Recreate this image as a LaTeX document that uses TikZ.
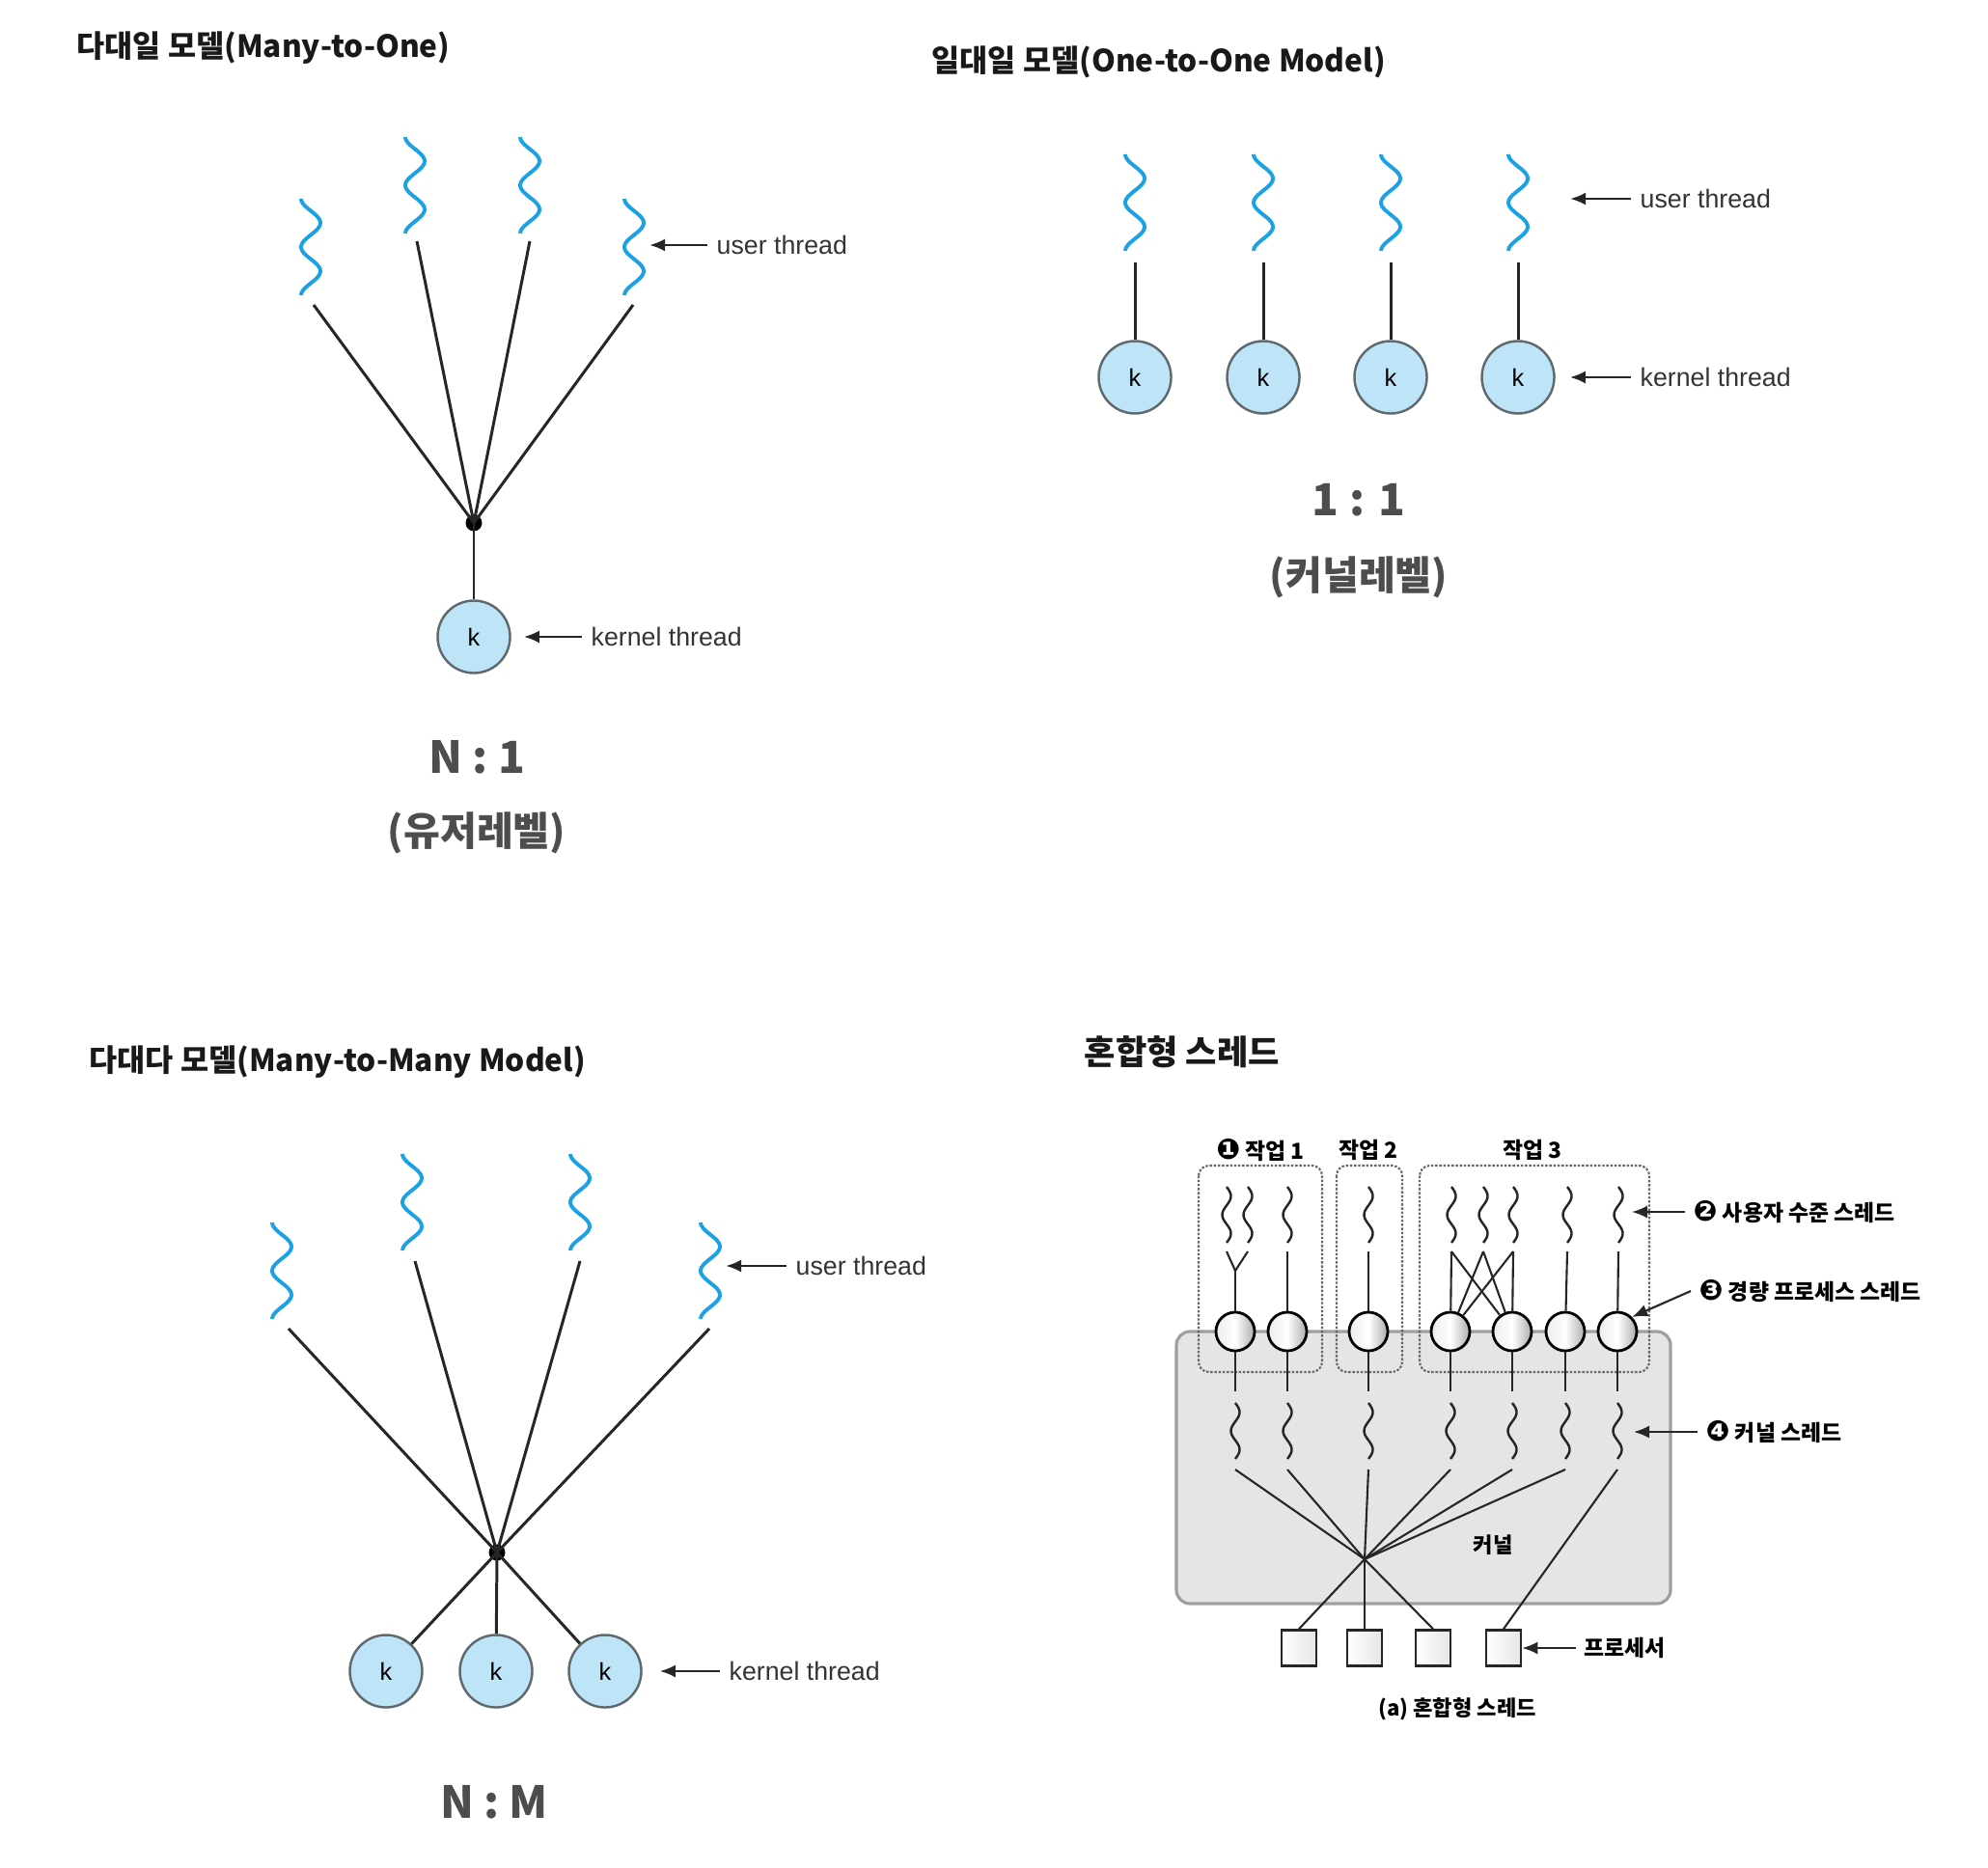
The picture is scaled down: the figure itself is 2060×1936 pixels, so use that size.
\documentclass[tikz,border=0pt]{standalone}
\usepackage{fontspec}
\setmainfont{Liberation Sans}
\newfontfamily\kr{Noto Sans CJK KR}
\newfontfamily\dingfont{DejaVu Sans}
\usetikzlibrary{arrows.meta,positioning}

\definecolor{threadblue}{RGB}{28,162,228}
\definecolor{kfill}{RGB}{190,228,248}
\definecolor{kline}{RGB}{95,105,110}
\definecolor{ratiogray}{RGB}{77,77,77}
\definecolor{kernelgray}{RGB}{229,229,229}

\tikzset{
  uthread/.style={threadblue, line width=1.1pt},
  sthread/.style={black!85, line width=0.7pt},
  link/.style={black!85, line width=0.85pt},
  hlink/.style={black!85, line width=0.6pt},
  kthread/.style={circle, draw=kline, fill=kfill, line width=0.7pt, minimum size=0.75cm,
    inner sep=0pt, font=\fontsize{7.2}{8}\selectfont},
  hubdot/.style={circle, fill=black, inner sep=0pt, minimum size=0.17cm},
  lwp/.style={circle, draw=black, line width=0.8pt, minimum size=0.4cm, inner sep=0pt,
    left color=gray!15, right color=gray!65, middle color=white},
  cpu/.style={rectangle, draw=black!85, line width=0.7pt, minimum width=0.36cm,
    minimum height=0.37cm, inner sep=0pt, left color=white, right color=gray!20},
  note/.style={<-, >={Latex[length=1.6mm,width=1.3mm]}, line width=0.75pt, black!85},
  lbl/.style={anchor=west, inner sep=0pt, inner xsep=0.09cm, text=black!80,
    font=\fontsize{7.6}{9}\selectfont},
  title/.style={anchor=west, inner sep=0pt, text=black!90, font=\kr\bfseries\fontsize{9}{11}\selectfont},
  ratio/.style={inner sep=0pt, text=ratiogray, font=\kr\bfseries\fontsize{13}{15}\selectfont},
  hlbl/.style={anchor=west, inner sep=0pt, inner xsep=0.08cm, font=\kr\bfseries\fontsize{6.5}{8}\selectfont},
  job/.style={draw=black!60, dash pattern=on 0.7pt off 0.5pt, line width=0.6pt, rounded corners=3pt},
}

% blue user thread, top at (#1,#2)
\newcommand{\userwave}[2]{\draw[uthread] plot[domain=0:1, samples=60, smooth] ({#1-10*cos(720*\x)}, {#2+100*\x});}
% small black thread of the hybrid figure
\newcommand{\smallwave}[2]{\draw[sthread] plot[domain=0:1, samples=40, smooth] ({#1+4.5*sin(540*\x)}, {#2+58*\x});}
% circled number
\newcommand{\cnum}[1]{{\dingfont\fontsize{8.4}{8}\selectfont #1}}

\begin{document}
\begin{tikzpicture}[x=0.01cm, y=-0.01cm]
  \useasboundingbox (0,0) rectangle (2060,1936);

  % ---- many-to-one
  \node[title] (t1) at (79,50) {다대일 모델(Many-to-One)};
  \userwave{322}{206} \userwave{430}{142} \userwave{549}{142} \userwave{657}{206}
  \coordinate (u11) at (325,316); \coordinate (u12) at (432,250);
  \coordinate (u13) at (549,250); \coordinate (u14) at (656,316);
  \node[hubdot] (hub1) at (491,542) {};
  \node[kthread] (k1) at (491,660) {k};
  \foreach \i in {1,...,4} \draw[link] (u1\i) -- (hub1.center);
  \draw[link] (hub1.center) -- (k1);
  \coordinate (ua1) at (673,254);
  \node[lbl] (ul1) at (733,254) {user thread};
  \draw[note] (ua1) -- (ul1.west);
  \node[lbl] (kl1) at (603,660) {kernel thread};
  \draw[note] ([xshift=0.13cm]k1.east) -- (kl1.west);
  \node[ratio] (r1) at (494,785) {N : 1};
  \node[ratio, font=\kr\bfseries\fontsize{11.7}{14}\selectfont] (r1b) at (494,863) {(유저레벨)};

  % ---- one-to-one
  \node[title] (t2) at (965,64) {일대일 모델(One-to-One Model)};
  \foreach \px [count=\i] in {1176,1309,1441,1573} {
    \userwave{\px}{160}
    \coordinate (u2\i) at (\px,272);
    \node[kthread] (k2\i) at (\px,391) {k};
    \draw[link] (u2\i) -- (k2\i);
  }
  \coordinate (ua2) at (1627,206);
  \node[lbl] (ul2) at (1690,206) {user thread};
  \draw[note] (ua2) -- (ul2.west);
  \node[lbl] (kl2) at (1690,391) {kernel thread};
  \draw[note] ([xshift=0.15cm]k24.east) -- (kl2.west);
  \node[ratio] (r2) at (1408,518) {1 : 1};
  \node[ratio, font=\kr\bfseries\fontsize{11.7}{14}\selectfont] (r2b) at (1408,598) {(커널레벨)};

  % ---- many-to-many
  \node[title] (t3) at (92,1101) {다대다 모델(Many-to-Many Model)};
  \userwave{292}{1267} \userwave{427}{1196} \userwave{601}{1196} \userwave{736}{1267}
  \coordinate (u31) at (299,1377); \coordinate (u32) at (430,1307);
  \coordinate (u33) at (601,1307); \coordinate (u34) at (735,1377);
  \node[hubdot] (hub3) at (515,1609) {};
  \node[kthread] (k31) at (400,1732) {k};
  \node[kthread] (k32) at (514,1732) {k};
  \node[kthread] (k33) at (627,1732) {k};
  \foreach \i in {1,...,4} \draw[link] (u3\i) -- (hub3.center);
  \foreach \i in {1,...,3} \draw[link] (hub3.center) -- (k3\i);
  \coordinate (ua3) at (752,1312);
  \node[lbl] (ul3) at (815,1312) {user thread};
  \draw[note] (ua3) -- (ul3.west);
  \node[lbl] (kl3) at (746,1732) {kernel thread};
  \draw[note] ([xshift=0.18cm]k33.east) -- (kl3.west);
  \node[ratio] (r3) at (512,1868) {N : M};

  % ---- hybrid
  \node[title, font=\kr\bfseries\fontsize{10}{12}\selectfont] (t4) at (1123,1090) {혼합형 스레드};
  \draw[draw=gray!75, fill=kernelgray, line width=0.9pt, rounded corners=4pt] (1219,1380) rectangle (1731,1662);
  \draw[job] (1242,1208) rectangle (1370,1422);
  \draw[job] (1385,1208) rectangle (1453,1422);
  \draw[job] (1471,1208) rectangle (1709,1422);
  \node[hlbl, anchor=center] (j1) at (1306,1192) {\cnum{❶} 작업 1};
  \node[hlbl, anchor=center] (j2) at (1418,1192) {작업 2};
  \node[hlbl, anchor=center] (j3) at (1588,1192) {작업 3};
  \node[hlbl, font=\kr\bfseries\fontsize{6.3}{8}\selectfont, anchor=center] (kn) at (1547,1601) {커널};

  % user threads
  \foreach \px [count=\i] in {1271,1293,1334,1418,1504,1537,1568,1624,1677} {
    \smallwave{\px}{1230}
    \coordinate (s\i) at (\px,1297);
  }
  % lwp, kernel threads
  \foreach \px [count=\i] in {1280,1334,1418,1503,1567,1622,1676} {
    \node[lwp] (l\i) at (\px,1380) {};
    \coordinate (d\i) at (\px,1442);
    \draw[hlink] (l\i) -- (d\i);
    \smallwave{\px}{1454}
    \coordinate (kt\i) at (\px,1523);
  }
  \coordinate (y1) at (1280,1317);
  \draw[hlink] (s1) -- (y1) -- (s2);
  \draw[hlink] (y1) -- (l1);
  \draw[hlink] (s3) -- (l2);
  \draw[hlink] (s4) -- (l3);
  \foreach \a in {5,6,7} { \draw[hlink] (s\a) -- (l4); \draw[hlink] (s\a) -- (l5); }
  \draw[hlink] (s8) -- (l6);
  \draw[hlink] (s9) -- (l7);

  % processors
  \node[cpu] (p1) at (1346,1708) {};
  \node[cpu] (p2) at (1414,1708) {};
  \node[cpu] (p3) at (1485,1708) {};
  \node[cpu] (p4) at (1558,1708) {};
  \coordinate (x0) at (1414,1616);
  \foreach \i in {1,...,6} \draw[hlink] (kt\i) -- (x0);
  \foreach \i in {1,2,3} \draw[hlink] (x0) -- (p\i.north);
  \draw[hlink] (kt7) -- (p4.north);

  % right side notes
  \node[hlbl] (n2) at (1746,1256) {\cnum{❷} 사용자 수준 스레드};
  \draw[note, line width=0.6pt] (1691,1256) -- (n2.west);
  \node[hlbl] (n3) at (1752,1338) {\cnum{❸} 경량 프로세스 스레드};
  \draw[note, line width=0.6pt] (l7.north east) ++(0.03,0.03) -- (n3.west);
  \node[hlbl] (n4) at (1759,1484) {\cnum{❹} 커널 스레드};
  \draw[note, line width=0.6pt] (1693,1484) -- (n4.west);
  \node[hlbl] (n5) at (1633,1708) {프로세서};
  \draw[note, line width=0.6pt] (p4.east) ++(0.05,0) -- (n5.west);
  \node[font=\kr\bfseries\fontsize{6.3}{8}\selectfont, inner sep=0pt] (cap) at (1510,1771) {(a) 혼합형 스레드};
\end{tikzpicture}
\end{document}
